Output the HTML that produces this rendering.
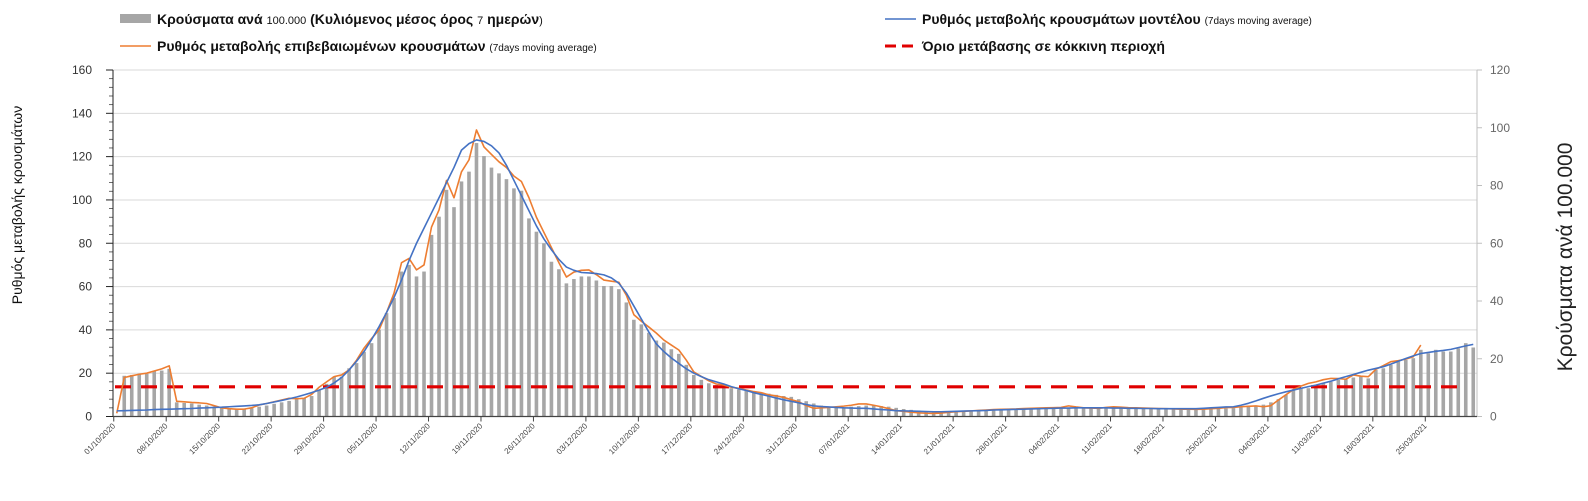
<!DOCTYPE html>
<html><head><meta charset="utf-8">
<style>
html,body{margin:0;padding:0;background:#fff;}
body{width:1588px;height:496px;overflow:hidden;font-family:"Liberation Sans","DejaVu Sans",sans-serif;}
</style></head>
<body>
<svg id="chart" width="1588" height="496" xmlns="http://www.w3.org/2000/svg" font-family="Liberation Sans, DejaVu Sans, sans-serif">
  <g>
    <g>
      <rect x="120" y="14" width="31" height="9" fill="#a6a6a6"/>
      <text x="157" y="24" font-size="14" font-weight="bold" fill="#111">Κρούσματα ανά <tspan font-size="11" font-weight="normal">100.000</tspan> (Κυλιόμενος μέσος όρος <tspan font-size="11" font-weight="normal">7</tspan> ημερών<tspan font-size="11" font-weight="normal">)</tspan></text>
    </g>
    <g>
      <line x1="120" y1="46" x2="151" y2="46" stroke="#ed7d31" stroke-width="1.6"/>
      <text x="157" y="51" font-size="14" font-weight="bold" fill="#111">Ρυθμός μεταβολής επιβεβαιωμένων κρουσμάτων <tspan font-size="10" font-weight="normal">(7days moving average)</tspan></text>
    </g>
    <g>
      <line x1="885" y1="19" x2="916" y2="19" stroke="#4472c4" stroke-width="1.6"/>
      <text x="922" y="24" font-size="14" font-weight="bold" fill="#111">Ρυθμός μεταβολής κρουσμάτων μοντέλου <tspan font-size="10" font-weight="normal">(7days moving average)</tspan></text>
    </g>
    <g>
      <line x1="885" y1="46" x2="916" y2="46" stroke="#e00000" stroke-width="3" stroke-dasharray="11,6"/>
      <text x="922" y="51" font-size="14" font-weight="bold" fill="#111">Όριο μετάβασης σε κόκκινη περιοχή</text>
    </g>
  </g>
  <text transform="translate(22,205) rotate(-90)" text-anchor="middle" font-size="14" fill="#111">Ρυθμός μεταβολής κρουσμάτων</text>
  <text transform="translate(1572,257) rotate(-90)" text-anchor="middle" font-size="21" fill="#222">Κρούσματα ανά 100.000</text>
  <g id="plot"></g>
</svg>
<script>
const bars = [0,
14.1,14.4,14.8,14.8,15.8,15.9,16.5,
4.9,4.7,4.5,4.1,3.8,3.4,3.0,2.9,2.7,2.7,2.9,3.4,3.8,
4.4,4.9,5.4,6.0,6.4,7.1,9.0,11.3,
13.8,13.8,16.7,18.5,22.4,25.4,30,35.8,41,50.2,52.5,48.5,50.2,62.9,69.2,78.5,72.5,81.4,84.8,94.7,90.2,86.2,84.2,82.2,79,78.2,68.6,64,60,53.6,51,46.1,47.6,48.5,48.5,47.1,45.2,45.2,44.1,39.5,33.5,31.9,29,26.3,25.6,23.3,21.7,17.9,14.4,12.7,11.5,10.9,10.4,
9.8,9.4,9,8.6,8.3,7.9,7.5,7.1,6.8,6,5.3,4.5,3.8,3.4,3.2,3.2,3.4,3.6,3.8,3.8,3.6,3.4,3,2.6,2.3,2.1,1.9,1.7,1.7,1.7,1.7,1.8,1.9,2,2.1,2.3,2.3,2.4,2.5,2.6,2.6,2.7,2.8,2.9,2.9,3,3.1,3.2,3.2,3.2,3,2.9,2.9,2.9,3,3.1,3,2.9,2.9,2.8,2.7,2.6,2.6,2.6,2.6,2.6,2.8,2.9,3.2,3.4,3.8,4.1,4.9,6,7.5,
9.2,10.1,9.8,10.9,11.7,12,12.7,12.9,13.5,13.8,13.2,16.1,16.7,17.9,19,19.6,20.2,23.1,21.9,23.1,22.5,22.5,23.6,25.4,23.9];
const confirmed = [1.5,18,18.8,19.5,20,21,22,23.4,7,6.8,6.5,6.3,6,5,4,3.6,3.4,3.4,4,5.3,6,6.8,7.6,8.4,8.2,8.4,10.2,13.5,16,18.4,19.2,21.5,26,31.6,36,40,48,57,71,73,67.7,70,87.5,95.4,109,101,113,118.5,132.3,124.5,121,117.6,115,111,108.5,101,92,85,78,71,64.4,66.7,67.5,67.7,65.5,63,62.5,62,56,47,44,41.3,38.5,35.3,33,30.7,26,20.6,18.5,16.5,15,14.5,13.5,13,12.2,11.5,11,10,9.5,8.8,7.8,6.8,5,3.8,4,4.2,4.5,4.8,5.2,5.8,5.8,5.2,4.5,3.6,2.7,2.4,2,1.7,1.5,1.4,1.6,1.9,2.2,2.4,2.6,2.8,3,3.2,3.3,3.4,3.5,3.7,3.8,3.9,4,4.1,4.2,4.9,4.4,4,3.9,3.8,4.2,4.5,4.3,4.1,4,3.9,3.8,3.7,3.6,3.5,3.4,3.4,3.3,3.4,3.6,3.8,4.1,4.2,4.5,4.7,4.9,4.5,5,7.6,10,12.5,14,15.3,16,17,17.6,17.5,17.2,19.2,18.6,18.4,21.8,23.5,25.3,25.8,26.5,27.6,33];
const model = [2.6,2.7,2.8,2.9,3.0,3.2,3.3,3.4,3.5,3.6,3.7,3.9,4.0,4.2,4.3,4.5,4.7,4.9,5.1,5.4,6,6.7,7.4,8.2,9,10,11,12.2,13.5,15.5,18,21.5,25.5,30,35.5,41.5,48,55,63,72,80,87,94,101,108,115,123,126,127.7,127,125,121.7,116,109,102,95,88,82,77,72.5,69,67.5,66.5,66.3,66,65.4,64,61.5,57,51,45,39,33.5,30,27,24.5,22,20,18.4,17,16,15,13.8,12.8,12,11,10.2,9.4,8.5,7.7,7,6.3,5.5,4.9,4.6,4.4,4.2,4.0,3.9,3.8,3.8,3.5,3.2,3.0,2.7,2.6,2.5,2.4,2.3,2.2,2.2,2.3,2.4,2.5,2.6,2.7,2.8,3.0,3.1,3.2,3.3,3.4,3.5,3.6,3.7,3.8,3.9,3.9,4,4,4,4,4,3.9,3.9,3.8,3.8,3.7,3.7,3.6,3.6,3.6,3.6,3.6,3.6,3.8,4.0,4.2,4.4,4.5,5.2,6.1,7.2,8.4,9.5,10.5,11.4,12.2,13,13.8,14.5,15.4,16.3,17.4,18.4,19.4,20.4,21.4,22.2,23,24.2,25.5,26.8,28,29.1,29.6,30.1,30.5,31,31.8,32.6,33.3];
const threshold = [13.7];
const dateLabels = ["01/10/2020","08/10/2020","15/10/2020","22/10/2020","29/10/2020","05/11/2020","12/11/2020","19/11/2020","26/11/2020","03/12/2020","10/12/2020","17/12/2020","24/12/2020","31/12/2020","07/01/2021","14/01/2021","21/01/2021","28/01/2021","04/02/2021","11/02/2021","18/02/2021","25/02/2021","04/03/2021","11/03/2021","18/03/2021","25/03/2021"];
const leftTicks = [0,20,40,60,80,100,120,140,160];
const rightTicks = [0,20,40,60,80,100,120];

const NS="http://www.w3.org/2000/svg";
const plot=document.getElementById('plot');
const X0=113, X1=1477, Y0=416.5, YT=70;
const N=182, step=(X1-X0)/N;
const xAt=i=>X0+(i+0.5)*step;
const yL=v=>Y0-(v/160)*(Y0-YT);
const yR=v=>Y0-(v/120)*(Y0-YT);
function mk(tag,attrs,parent){const e=document.createElementNS(NS,tag);for(const k in attrs)e.setAttribute(k,attrs[k]);(parent||plot).appendChild(e);return e;}

leftTicks.forEach(v=>{
  if(v>0){const g=mk('line',{x1:X0,x2:X1,y1:yL(v),y2:yL(v),stroke:'#d9d9d9','stroke-width':1});
  
  }
  const t=mk('text',{x:92,y:yL(v)+4,'text-anchor':'end','font-size':12,fill:'#333'});
  t.textContent=v;
  
  
  mk('line',{x1:X0-7,x2:X0,y1:yL(v),y2:yL(v),stroke:'#222','stroke-width':1});
});
for(let v=4;v<160;v+=4){ if(v%20) mk('line',{x1:X0-4,x2:X0,y1:yL(v),y2:yL(v),stroke:'#444','stroke-width':0.8}); }
rightTicks.forEach(v=>{
  const t=mk('text',{x:1490,y:yR(v)+4,'font-size':12,fill:'#666'});
  t.textContent=v;
  
  
  mk('line',{x1:X1,x2:X1+5,y1:yR(v),y2:yR(v),stroke:'#bfbfbf','stroke-width':1});
});
bars.forEach((v,i)=>{
  const y=yR(v);
  const b=mk('rect',{x:xAt(i)-1.8,y:y,width:3.6,height:Math.max(0,Y0-y),fill:'#a6a6a6'});
  
  
});
const th=mk('line',{x1:X0+2,x2:1458,y1:yL(threshold[0]),y2:yL(threshold[0]),stroke:'#e00000','stroke-width':3.2,'stroke-dasharray':'16,10'});


function line(arr,color,name){
  const d=arr.map((v,i)=>(i?'L':'M')+xAt(i).toFixed(2)+','+yL(v).toFixed(2)).join('');
  const p=mk('path',{d:d,fill:'none',stroke:color,'stroke-width':1.6,'stroke-linejoin':'round'});
  
  
}
line(confirmed,'#ed7d31','confirmed-rate-line');
line(model,'#4472c4','model-rate-line');
const la=mk('line',{x1:X0,x2:X0,y1:YT,y2:Y0,stroke:'#222','stroke-width':1});


const ra=mk('line',{x1:X1,x2:X1,y1:YT,y2:Y0,stroke:'#bfbfbf','stroke-width':1});


const ba=mk('line',{x1:X0,x2:X1,y1:Y0,y2:Y0,stroke:'#444','stroke-width':1.2});


dateLabels.forEach((s,k)=>{
  const x=xAt(k*7)-3;
  mk('line',{x1:x,x2:x,y1:Y0,y2:Y0+5,stroke:'#444','stroke-width':1});
  const t=mk('text',{x:0,y:0,'text-anchor':'end','font-size':8,fill:'#444',transform:`translate(${x+2},${Y0+10}) rotate(-45)`});
  t.textContent=s;
  
  
});
</script>
</body></html>
